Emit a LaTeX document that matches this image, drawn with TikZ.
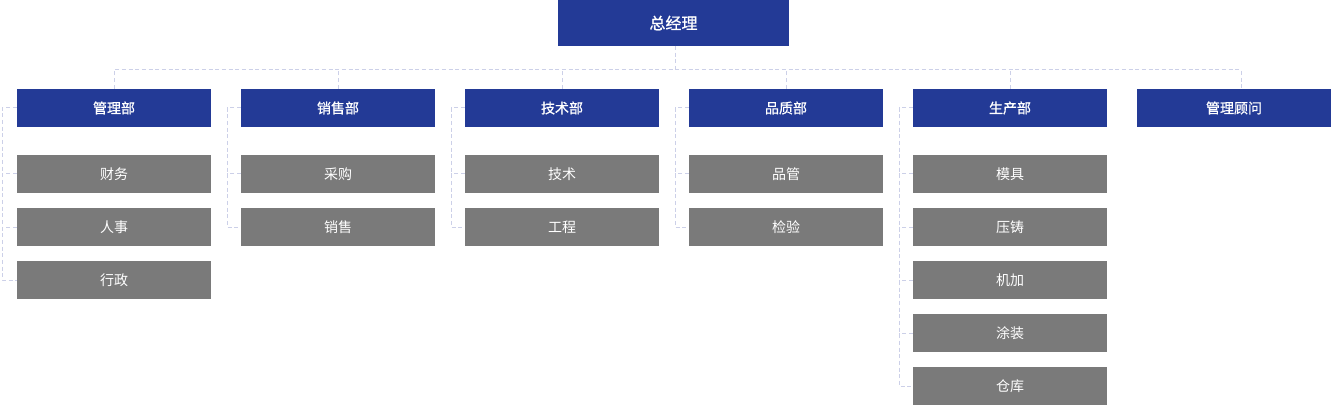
\documentclass[tikz,border=0pt]{standalone}
\usepackage{fontspec}
\usepackage{tikz}
\setmainfont{Noto Sans CJK SC}
\newfontfamily\headfont{Noto Sans CJK SC}[FakeBold=0.8]
\definecolor{headblue}{HTML}{233A96}
\definecolor{subgray}{HTML}{7A7A7A}
\definecolor{linkline}{HTML}{CCD0E8}

\begin{document}
\begin{tikzpicture}[x=0.75pt,y=-0.75pt,font=\fontsize{10.5}{12}\selectfont,
  dept/.style={fill=headblue,text=white,inner sep=0pt,minimum width=145.5pt,minimum height=28.5pt,font=\headfont\fontsize{10.5}{12}\selectfont},
  unit/.style={fill=subgray,text=white,inner sep=0pt,minimum width=145.5pt,minimum height=28.5pt},
  link/.style={linkline,line width=0.75pt,dash pattern=on 3pt off 2pt}]
\useasboundingbox (0,0) rectangle (1331,406);

\node[dept,minimum width=173.25pt,minimum height=34.5pt,font=\headfont\fontsize{12}{14}\selectfont] (gm) at (673.5,23) {总经理};

\node[dept] (d1) at (114,108) {管理部};
\node[dept] (d2) at (338,108) {销售部};
\node[dept] (d3) at (562,108) {技术部};
\node[dept] (d4) at (786,108) {品质部};
\node[dept] (d5) at (1010,108) {生产部};
\node[dept] (d6) at (1234,108) {管理顾问};

\node[unit] (s11) at (114,174) {财务};
\node[unit] (s12) at (114,227) {人事};
\node[unit] (s13) at (114,280) {行政};

\node[unit] (s21) at (338,174) {采购};
\node[unit] (s22) at (338,227) {销售};

\node[unit] (s31) at (562,174) {技术};
\node[unit] (s32) at (562,227) {工程};

\node[unit] (s41) at (786,174) {品管};
\node[unit] (s42) at (786,227) {检验};

\node[unit] (s51) at (1010,174) {模具};
\node[unit] (s52) at (1010,227) {压铸};
\node[unit] (s53) at (1010,280) {机加};
\node[unit] (s54) at (1010,333) {涂装};
\node[unit] (s55) at (1010,386) {仓库};

\path
  (0,70) coordinate(bus)
  (675.5,46) coordinate(gmfoot)
  (1241,89) coordinate(d6top)
  (2,0) coordinate(b1)
  (227,0) coordinate(b2)
  (451,0) coordinate(b3)
  (675,0) coordinate(b4)
  (899,0) coordinate(b5);

\draw[link]
  (gmfoot) -- (gmfoot |- bus)
  (d1.north) -- (d1.north |- bus) -| (d6top)
  (d2.north) -- (d2.north |- bus)
  (d3.north) -- (d3.north |- bus)
  (d4.north) -- (d4.north |- bus)
  (d5.north) -- (d5.north |- bus);

\draw[link]
  (d1.west) -- (d1.west -| b1) |- (s13.west)
  (s11.west) -- (s11.west -| b1)
  (s12.west) -- (s12.west -| b1)
  (d2.west) -- (d2.west -| b2) |- (s22.west)
  (s21.west) -- (s21.west -| b2)
  (d3.west) -- (d3.west -| b3) |- (s32.west)
  (s31.west) -- (s31.west -| b3)
  (d4.west) -- (d4.west -| b4) |- (s42.west)
  (s41.west) -- (s41.west -| b4)
  (d5.west) -- (d5.west -| b5) |- (s55.west)
  (s51.west) -- (s51.west -| b5)
  (s52.west) -- (s52.west -| b5)
  (s53.west) -- (s53.west -| b5)
  (s54.west) -- (s54.west -| b5);
\end{tikzpicture}
\end{document}
